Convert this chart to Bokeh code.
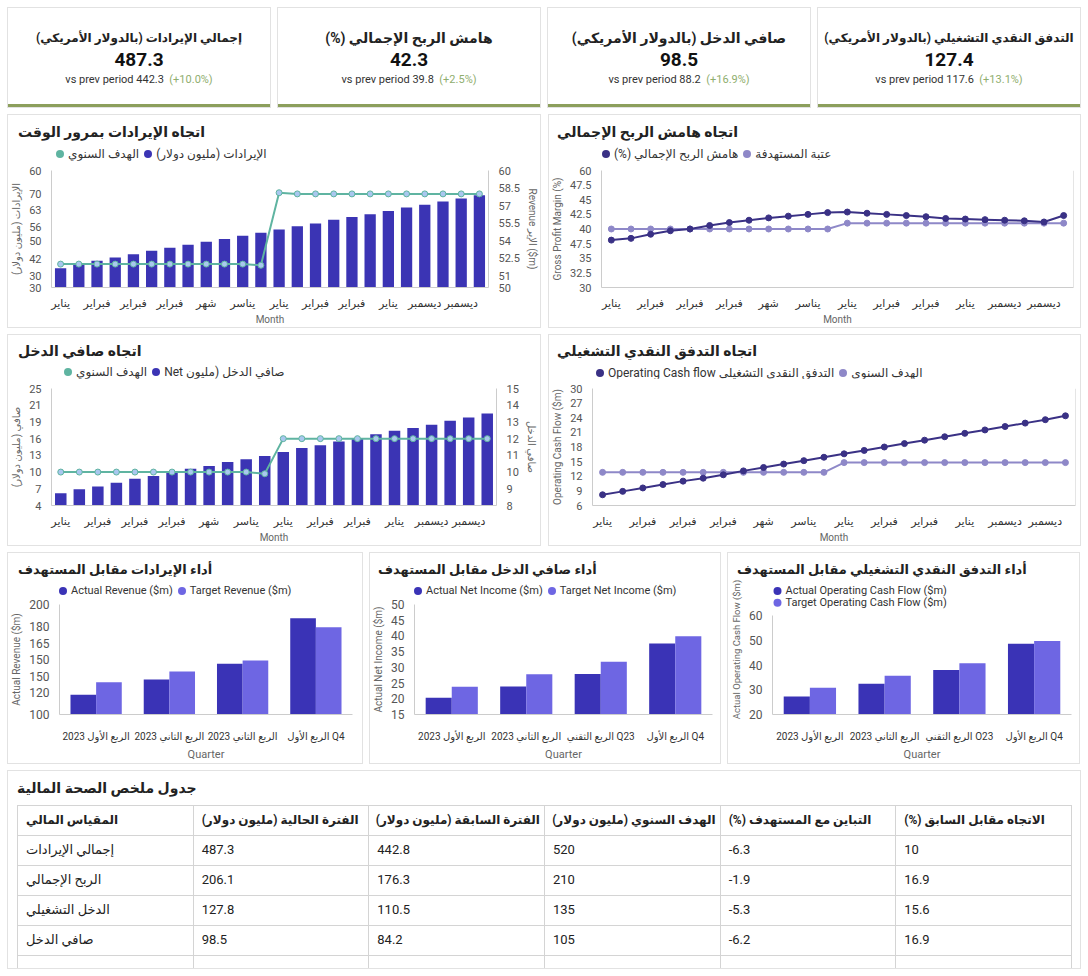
from bokeh.plotting import figure
from bokeh.models import Range1d, LinearAxis, FixedTicker, Span, Div, ColumnDataSource
from bokeh.core.properties import value
from bokeh.transform import dodge
from bokeh.layouts import row, column
from bokeh.embed import file_html
from bokeh.resources import INLINE

FONT = "Roboto, DejaVu Sans, sans-serif"

# ---------------- data ----------------
kpi_titles = ["إجمالي الإيرادات (بالدولار الأمريكي)", "هامش الربح الإجمالي (%)",
              "صافي الدخل (بالدولار الأمريكي)", "التدفق النقدي التشغيلي (بالدولار الأمريكي)"]
kpi_values = ["487.3", "42.3", "98.5", "127.4"]
kpi_prev = ["442.3", "39.8", "88.2", "117.6"]
kpi_change = ["(+10.0%)", "(+2.5%)", "(+16.9%)", "(+13.1%)"]

month_idx = list(range(24))
month_tick_pos = [0, 2, 4, 6, 8, 10, 12, 14, 16, 18, 20, 22]
month_tick_labels = ["يناير", "فبراير", "فبراير", "فبراير", "شهر", "يناسر",
                     "يناير", "فبراير", "فبراير", "يناير", "ديسمبر", "ديسمبر"]

revenue = [38.2, 39.9, 41.4, 42.8, 44.2, 45.7, 47.0, 48.3, 49.5, 50.7, 52.1, 53.4,
           54.8, 56.2, 57.4, 58.9, 60.1, 61.3, 62.7, 64.2, 65.4, 66.8, 68.0, 69.4]
revenue_target = [52.0, 52.0, 52.0, 52.0, 52.0, 52.0, 52.0, 52.0, 52.0, 52.0, 52.0, 51.9,
                  58.1, 58.0, 58.0, 58.0, 58.0, 58.0, 58.0, 58.0, 58.0, 58.0, 58.0, 58.0]
rev_left_ticks = [30, 35, 42, 50, 56, 63, 70, 80]
rev_left_labels = ["30", "30", "42", "50", "56", "63", "70", "60"]
rev_right_ticks = [50, 51, 52.5, 54, 55.5, 57, 58.5, 60]
rev_right_labels = ["50", "51", "52.5", "54", "55.5", "57", "58.5", "60"]

gross_margin = [38.1, 38.4, 39.1, 39.7, 40.0, 40.6, 41.1, 41.5, 41.9, 42.2, 42.5, 42.8,
                42.9, 42.7, 42.5, 42.3, 42.1, 41.8, 41.7, 41.6, 41.5, 41.4, 41.2, 42.3]
margin_threshold = [40.0, 40.0, 40.0, 40.0, 40.0, 40.0, 40.0, 40.0, 40.0, 40.0, 40.0, 40.0,
                    41.0, 41.0, 41.0, 41.0, 41.0, 41.0, 41.0, 41.0, 41.0, 41.0, 41.0, 41.0]
gm_ticks = [30, 32.5, 35, 37.5, 40, 42.5, 45, 47.5, 50]
gm_labels = ["30", "32.5", "35", "47.5", "40", "42.5", "45", "47.5", "60"]

net_income = [6.2, 6.9, 7.4, 8.1, 8.8, 9.3, 10.1, 10.6, 11.1, 11.8, 12.3, 12.9,
              13.6, 14.3, 14.8, 15.5, 16.1, 16.8, 17.4, 17.9, 18.5, 19.2, 19.8, 20.5]
net_target = [10.0, 10.0, 10.0, 10.0, 10.0, 10.0, 10.0, 10.0, 10.0, 10.0, 10.0, 9.9,
              12.0, 12.0, 12.0, 12.0, 12.0, 12.0, 12.0, 12.0, 12.0, 12.0, 12.0, 12.0]
ni_left_ticks = [4, 7, 10, 13, 16, 19, 22, 25]
ni_left_labels = ["4", "7", "10", "13", "16", "19", "21", "25"]
ni_right_ticks = [8, 9, 10, 11, 12, 13, 14, 15]
ni_right_labels = ["8", "9", "10", "11", "12", "13", "14", "15"]

cash_flow = [8.2, 8.9, 9.6, 10.3, 11.0, 11.6, 12.3, 13.1, 13.8, 14.5, 15.2, 15.9,
             16.6, 17.3, 18.0, 18.7, 19.4, 20.1, 20.8, 21.5, 22.2, 22.9, 23.6, 24.4]
cash_target = [12.8, 12.8, 12.8, 12.8, 12.8, 12.8, 12.8, 12.8, 12.8, 12.8, 12.8, 12.8,
               14.8, 14.8, 14.8, 14.8, 14.8, 14.8, 14.8, 14.8, 14.8, 14.8, 14.8, 14.8]
cf_ticks = [6, 9, 12, 15, 18, 21, 24, 27, 30]
cf_labels = ["6", "9", "12", "15", "18", "21", "24", "27", "30"]

quarter_idx = [0, 1, 2, 3]
rev_q_labels = ["الربع الأول 2023", "الربع الثاني 2023", "الربع الثاني 2023", "الربع الأول Q4"]
ni_q_labels = ["الربع الأول 2023", "الربع الثاني 2023", "الربع الثقني Q23", "الربع الأول Q4"]
cf_q_labels = ["الربع الأول 2023", "الربع الثاني 2023", "الربع الثقني O23", "الربع الأول Q4"]
rev_actual = [118.0, 131.8, 146.1, 187.6]
rev_target_q = [129.3, 139.2, 149.2, 179.3]
ni_actual = [20.3, 23.9, 27.9, 37.6]
ni_target_q = [23.8, 27.8, 31.8, 39.9]
cf_actual = [27.3, 32.4, 38.0, 48.6]
cf_target_q = [30.8, 35.7, 40.7, 49.7]
rev_q_ticks = [100, 120, 135, 150, 165, 180, 200]
rev_q_labels_y = ["100", "120", "150", "150", "165", "180", "200"]
ni_q_ticks = [15, 20, 25, 30, 35, 40, 45, 50]
ni_q_labels_y = ["15", "20", "25", "30", "35", "40", "45", "50"]
cf_q_ticks = [20, 30, 40, 50, 60]
cf_q_labels_y = ["20", "30", "40", "50", "60"]

table_headers = ["المقياس المالي", "الفترة الحالية (مليون دولار)", "الفترة السابقة (مليون دولار)",
                 "الهدف السنوي (مليون دولار)", "التباين مع المستهدف (%)", "الاتجاه مقابل السابق (%)"]
metric_names = ["إجمالي الإيرادات", "الربح الإجمالي", "الدخل التشغيلي", "صافي الدخل"]
current_vals = ["487.3", "206.1", "127.8", "98.5"]
prev_vals = ["442.8", "176.3", "110.5", "84.2"]
target_vals = ["520", "210", "135", "105"]
variance_vals = ["-6.3", "-1.9", "-5.3", "-6.2"]
trend_vals = ["10", "16.9", "15.6", "16.9"]

# ---------------- styles ----------------
BAR = "#3b34b4"
TEAL = "#5fb4a1"
TEAL_PT = "#a9c7ef"
NAVY = "#3a3185"
LAV = "#8e88c8"
ACT = "#3a33b6"
TGT = "#6e66e3"
PANEL = {"box-shadow": "0 0 0 1px #e2e2e2", "background-color": "white"}


def base_fig(geo, xr, yr):
    W, H, l, r, t, b = geo
    p = figure(width=W, height=H, x_range=xr, y_range=yr, output_backend="svg",
               toolbar_location=None, min_border_left=l, min_border_right=r,
               min_border_top=t, min_border_bottom=b)
    p.xgrid.visible = False
    p.ygrid.visible = False
    p.outline_line_color = None
    p.background_fill_color = "white"
    p.border_fill_color = "white"
    return p


def header_div(W, h, title, tx, ty, tsize, lx, ly, items, lsize=12):
    html = [f'<div style="position:relative;width:{W}px;height:{h}px;font-family:{FONT};">']
    html.append(
        f'<div style="position:absolute;left:{tx}px;top:{ty - 10}px;line-height:20px;'
        f'font-size:{tsize}px;font-weight:bold;color:#222;white-space:nowrap;">{title}</div>')
    if items:
        html.append(
            f'<div style="position:absolute;left:{lx - 4}px;top:{ly - 8}px;display:flex;">')
        for col, txt in items:
            html.append(
                f'<div style="display:flex;align-items:center;height:16px;margin-right:5px;">'
                f'<span style="display:inline-block;width:8px;height:8px;border-radius:50%;'
                f'background:{col};margin-right:4px;"></span>'
                f'<span dir="ltr" style="font-size:{lsize}px;color:#333;white-space:nowrap;'
                f'line-height:16px;">{txt}</span></div>')
        html.append('</div>')
    html.append('</div>')
    return Div(text="".join(html), width=W, height=h, margin=0,
               styles={"background-color": "white"})


def style_axis(ax, ticks, labels, size=11, color="#555555", label=None, label_size=10,
               standoff=4, label_standoff=4):
    ax.ticker = FixedTicker(ticks=ticks)
    ax.major_label_overrides = {tk: lb for tk, lb in zip(ticks, labels)}
    ax.axis_line_color = "#cccccc"
    ax.major_tick_line_color = None
    ax.minor_tick_line_color = None
    ax.major_label_text_font = FONT
    ax.major_label_text_font_size = f"{size}px"
    ax.major_label_text_color = color
    ax.major_label_standoff = standoff
    if label is not None:
        ax.axis_label = label
        ax.axis_label_text_font = FONT
        ax.axis_label_text_font_size = f"{label_size}px"
        ax.axis_label_text_font_style = "normal"
        ax.axis_label_text_color = "#666666"
        ax.axis_label_standoff = label_standoff


# ---------------- KPI cards ----------------
kpis = []
for ttl, val, prv, chg in zip(kpi_titles, kpi_values, kpi_prev, kpi_change):
    tsize = 14 if len(ttl) < 36 else 12
    html = (
        f'<div style="width:262px;height:99px;box-sizing:border-box;padding-top:20px;'
        f'text-align:center;font-family:{FONT};">'
        f'<div dir="rtl" style="font-weight:bold;font-size:{tsize}px;line-height:20px;color:#222;'
        f'white-space:nowrap;">{ttl}</div>'
        f'<div style="font-weight:bold;font-size:19px;line-height:24px;color:#111;">{val}</div>'
        f'<div style="font-size:11px;line-height:16px;color:#333;">vs prev period {prv}&nbsp;&nbsp;'
        f'<span style="color:#8fae6e;">{chg}</span></div></div>'
    )
    kpis.append(Div(text=html, width=262, height=99, margin=0,
                    styles={"box-shadow": "0 0 0 1px #e2e2e2, inset 0 -3px 0 #8c9f5c",
                            "background-color": "white", "overflow": "hidden"}))

# ---------------- Chart A: revenue trend ----------------
hA = header_div(532, 45, "اتجاه الإيرادات بمرور الوقت", 10, 17, 14, 52, 39,
                [(TEAL, "الهدف السنوي"), (BAR, "الإيرادات (مليون دولار)")])
pA = base_fig((532, 167, 43, 50, 10, 30), Range1d(-0.5, 23.5), Range1d(30, 80))
pA.extra_y_ranges = {"right": Range1d(50, 60)}
pA.vbar(x=month_idx, top=revenue, bottom=30, width=0.62, fill_color=BAR, line_color=None)
pA.line(month_idx, revenue_target, y_range_name="right", line_color=TEAL, line_width=2)
pA.scatter(month_idx, revenue_target, y_range_name="right", size=6, fill_color=TEAL_PT,
           line_color=TEAL, line_width=1)
style_axis(pA.yaxis[0], rev_left_ticks, rev_left_labels, label="الإيرادات (مليون دولار)")
style_axis(pA.xaxis[0], month_tick_pos, month_tick_labels, color="#333333", label="Month",
           standoff=3, label_standoff=1)
raA = LinearAxis(y_range_name="right")
style_axis(raA, rev_right_ticks, rev_right_labels, label="Revenue الإير ($m)")
pA.add_layout(raA, "right")
panelA = column(hA, pA, spacing=0, styles=PANEL)

# ---------------- Chart B: gross margin trend ----------------
hB = header_div(531, 45, "اتجاه هامش الربح الإجمالي", 8, 17, 14, 57, 39,
                [(NAVY, "(%) هامش الربح الإجمالي"), (LAV, "عتبة المستهدفة")])
pB = base_fig((531, 167, 52, 7, 10, 31), Range1d(-0.5, 23.5), Range1d(30, 50))
pB.line(month_idx, margin_threshold, line_color=LAV, line_width=2)
pB.scatter(month_idx, margin_threshold, size=6, fill_color=LAV, line_color=LAV)
pB.line(month_idx, gross_margin, line_color=NAVY, line_width=2)
pB.scatter(month_idx, gross_margin, size=6, fill_color=NAVY, line_color=NAVY)
style_axis(pB.yaxis[0], gm_ticks, gm_labels, label="Gross Profit Margin (%)")
style_axis(pB.xaxis[0], month_tick_pos, month_tick_labels, color="#333333", label="Month",
           standoff=3, label_standoff=1)
pB.add_layout(Span(location=23.5, dimension="height", line_color="#cccccc", line_width=1))
panelB = column(hB, pB, spacing=0, styles=PANEL)

# ---------------- Chart C: net income trend ----------------
hC = header_div(532, 43, "اتجاه صافي الدخل", 10, 16, 14, 60, 37,
                [(TEAL, "الهدف السنوي"), (BAR, "Net صافي الدخل (مليون")])
pC = base_fig((532, 167, 43, 44, 10, 30), Range1d(-0.5, 23.5), Range1d(4, 25))
pC.extra_y_ranges = {"right": Range1d(8, 15)}
pC.vbar(x=month_idx, top=net_income, bottom=4, width=0.62, fill_color=BAR, line_color=None)
pC.line(month_idx, net_target, y_range_name="right", line_color=TEAL, line_width=2)
pC.scatter(month_idx, net_target, y_range_name="right", size=6, fill_color=TEAL_PT,
           line_color=TEAL, line_width=1)
style_axis(pC.yaxis[0], ni_left_ticks, ni_left_labels, label="صافي (مليون دولار)")
style_axis(pC.xaxis[0], month_tick_pos, month_tick_labels, color="#333333", label="Month",
           standoff=3, label_standoff=1)
raC = LinearAxis(y_range_name="right")
style_axis(raC, ni_right_ticks, ni_right_labels, label="صافي الدخل")
pC.add_layout(raC, "right")
panelC = column(hC, pC, spacing=0, styles=PANEL)

# ---------------- Chart D: cash flow trend ----------------
hD = header_div(531, 43, "اتجاه التدفق النقدي التشغيلي", 8, 16, 14, 51, 38,
                [(NAVY, "Operating Cash flow التدفق النقدي التشغيلي"), (LAV, "الهدف السنوي")])
pD = base_fig((531, 167, 43, 5, 10, 31), Range1d(-0.5, 23.5), Range1d(6, 30))
pD.line(month_idx, cash_target, line_color=LAV, line_width=2)
pD.scatter(month_idx, cash_target, size=6, fill_color=LAV, line_color=LAV)
pD.line(month_idx, cash_flow, line_color=NAVY, line_width=2)
pD.scatter(month_idx, cash_flow, size=6, fill_color=NAVY, line_color=NAVY)
style_axis(pD.yaxis[0], cf_ticks, cf_labels, label="Operating Cash Flow ($m)")
style_axis(pD.xaxis[0], month_tick_pos, month_tick_labels, color="#333333", label="Month",
           standoff=3, label_standoff=1)
pD.add_layout(Span(location=23.5, dimension="height", line_color="#cccccc", line_width=1))
panelD = column(hD, pD, spacing=0, styles=PANEL)


# ---------------- Bottom performance charts ----------------
def perf_panel(W, hh, geo, title, title_x, lx, items, vertical, q_labels, actual, target,
               ystart, yend, ticks, tlabels, ylabel, data_top=None):
    head = header_div(W, hh, title, title_x, 17, 13, lx, 38, [] if vertical else items, lsize=11)
    Wf, H, l, r, t, b = geo
    y_hi = yend
    if vertical:
        # frame extends above the data area to host the two-row legend
        ppu = ((H - b) - (data_top - hh)) / (yend - ystart)
        y_hi = ystart + ((H - b) - t) / ppu
    p = base_fig(geo, Range1d(-0.5, 3.5), Range1d(ystart, y_hi))
    src = ColumnDataSource(dict(q=quarter_idx, actual=actual, target=target))
    p.vbar(x=dodge("q", -0.175), top="actual", bottom=ystart, width=0.35, source=src,
           fill_color=ACT, line_color=None)
    p.vbar(x=dodge("q", 0.175), top="target", bottom=ystart, width=0.35, source=src,
           fill_color=TGT, line_color=None)
    style_axis(p.yaxis[0], ticks, tlabels, size=12, label=ylabel,
               label_size=9.5 if vertical else 10)
    style_axis(p.xaxis[0], quarter_idx, q_labels, size=10, color="#333333", label="Quarter",
               label_size=11, standoff=10, label_standoff=3)
    if vertical:
        p.yaxis[0].bounds = (ystart, yend)
        ppx = (Wf - l - r) / 4.0
        for i, (col, txt) in enumerate(items):
            yrel = 38 + 13 * i
            yd = ystart + ((H - b) - (yrel - hh)) / ppu
            p.scatter(x=[-0.5 + (lx - l) / ppx], y=[yd], size=8, fill_color=col, line_color=None)
            p.text(x=[-0.5 + (lx + 8 - l) / ppx], y=[yd], text=[txt], text_font=value(FONT),
                   text_font_size="11px", text_color="#333333", text_baseline="middle",
                   text_align="left")
    return column(head, p, spacing=0, styles=PANEL)


panelE = perf_panel(354, 44, (354, 166, 48, 10, 7, 38), "أداء الإيرادات مقابل المستهدف", 10, 55,
                    [(ACT, "Actual Revenue ($m)"), (TGT, "Target Revenue ($m)")], False,
                    rev_q_labels, rev_actual, rev_target_q, 100, 200, rev_q_ticks, rev_q_labels_y,
                    "Actual Revenue ($m)")
panelF = perf_panel(350, 44, (350, 166, 42, 8, 7, 37), "أداء صافي الدخل مقابل المستهدف", 8, 48,
                    [(ACT, "Actual Net Income ($m)"), (TGT, "Target Net Income ($m)")], False,
                    ni_q_labels, ni_actual, ni_target_q, 15, 50, ni_q_ticks, ni_q_labels_y,
                    "Actual Net Income ($m)")
panelG = perf_panel(351, 26, (351, 184, 44, 8, 5, 37), "أداء التدفق النقدي التشغيلي مقابل المستهدف", 9, 49,
                    [(ACT, "Actual Operating Cash Flow ($m)"), (TGT, "Target Operating Cash Flow ($m)")],
                    True, cf_q_labels, cf_actual, cf_target_q, 20, 60, cf_q_ticks, cf_q_labels_y,
                    "Actual Operating Cash Flow ($m)", data_top=65)

# ---------------- Table ----------------
cell = ("border:1px solid #d4d4d4;padding:0 4px 0 8px;height:30px;text-align:left;"
        "color:#222;unicode-bidi:plaintext;white-space:nowrap;overflow:hidden;")
rows_html = "<tr>" + "".join(
    f'<th style="{cell}font-weight:bold;font-size:12px;">{h}</th>' for h in table_headers) + "</tr>"
for vals in zip(metric_names, current_vals, prev_vals, target_vals, variance_vals, trend_vals):
    rows_html += "<tr>" + "".join(f'<td style="{cell}font-size:13px;">{v}</td>' for v in vals) + "</tr>"
rows_html += "<tr>" + "".join(f'<td style="{cell}">&nbsp;</td>' for _ in table_headers) + "</tr>"
table_html = (
    f'<div style="width:1072px;height:197px;box-sizing:border-box;padding:8px 9px;'
    f'font-family:{FONT};overflow:hidden;">'
    f'<div dir="rtl" style="text-align:left;font-weight:bold;font-size:14px;line-height:18px;'
    f'height:18px;margin-bottom:8px;color:#222;">جدول ملخص الصحة المالية</div>'
    f'<table style="border-collapse:collapse;table-layout:fixed;width:1055px;">{rows_html}</table></div>'
)
table_div = Div(text=table_html, width=1072, height=197, margin=0,
                styles={"box-shadow": "0 0 0 1px #e2e2e2", "background-color": "white",
                        "overflow": "hidden"})

page = column(
    row(*kpis, spacing=8),
    row(panelA, panelB, spacing=9),
    row(panelC, panelD, spacing=9),
    row(panelE, panelF, panelG, spacing=8),
    table_div,
    spacing=8,
    margin=(8, 8, 8, 8),
)

open("out.html", "w").write(file_html(page, INLINE))
